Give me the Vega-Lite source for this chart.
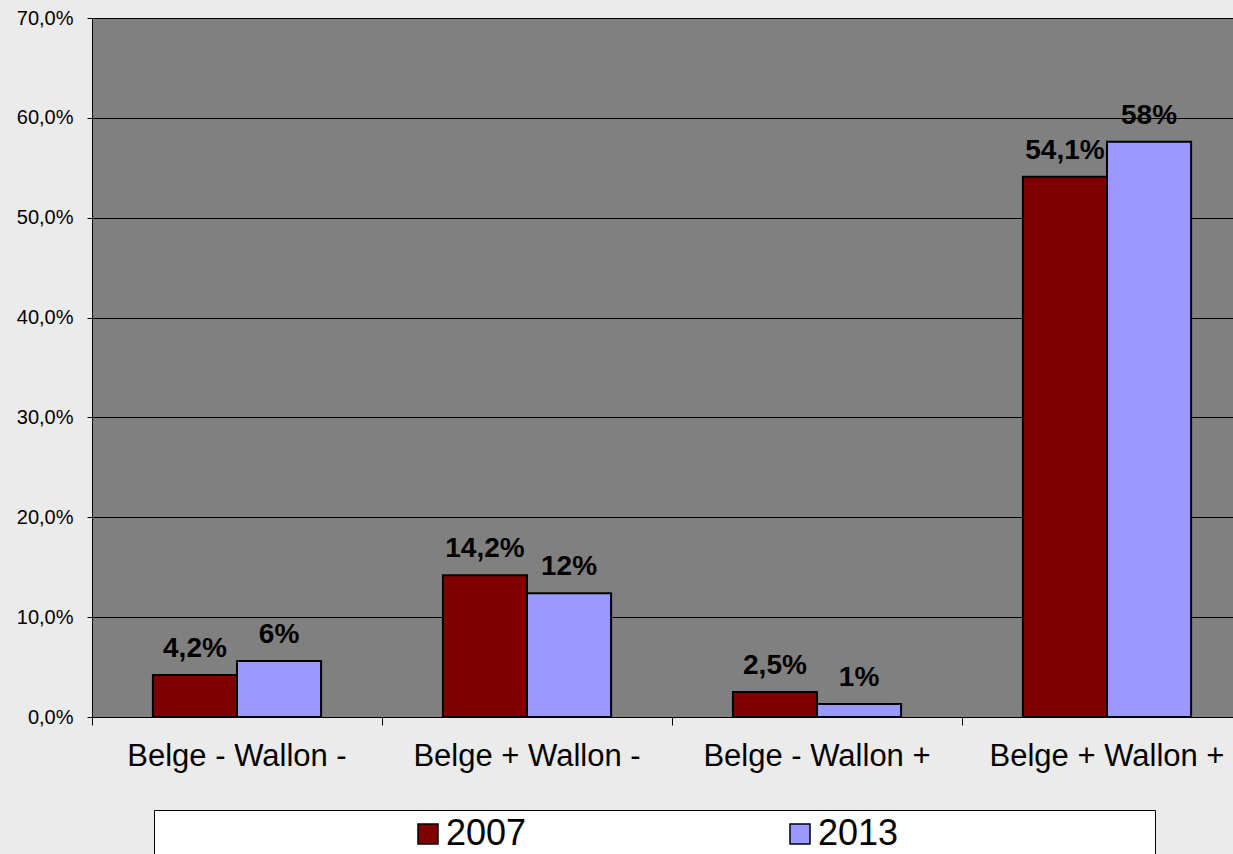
{
  "$schema": "https://vega.github.io/schema/vega-lite/v6.json",
  "width": 1141,
  "height": 699,
  "autosize": {"type": "none"},
  "padding": {"left": 92, "top": 18, "right": 0, "bottom": 137},
  "background": "#ebebeb",
  "config": {
    "view": {"fill": "#808080", "stroke": null},
    "font": "Liberation Sans"
  },
  "data": {
    "values": [
      {"category": "Belge - Wallon -", "year": "2007", "value": 4.2, "label": "4,2%"},
      {"category": "Belge - Wallon -", "year": "2013", "value": 5.6, "label": "6%"},
      {"category": "Belge + Wallon -", "year": "2007", "value": 14.2, "label": "14,2%"},
      {"category": "Belge + Wallon -", "year": "2013", "value": 12.4, "label": "12%"},
      {"category": "Belge - Wallon +", "year": "2007", "value": 2.5, "label": "2,5%"},
      {"category": "Belge - Wallon +", "year": "2013", "value": 1.3, "label": "1%"},
      {"category": "Belge + Wallon +", "year": "2007", "value": 54.1, "label": "54,1%"},
      {"category": "Belge + Wallon +", "year": "2013", "value": 57.6, "label": "58%"}
    ]
  },
  "encoding": {
    "x": {
      "field": "category",
      "type": "nominal",
      "sort": null,
      "scale": {"range": [0, 1160], "paddingInner": 0.42, "paddingOuter": 0.21},
      "axis": {
        "title": null,
        "labelAngle": 0,
        "labelFont": "Liberation Sans",
        "labelFontSize": 31,
        "labelColor": "black",
        "labelLimit": 400,
        "labelPadding": 16,
        "ticks": true,
        "bandPosition": -0.362,
        "tickSize": 8,
        "tickWidth": 1,
        "tickColor": "black",
        "tickOpacity": 1,
        "domainColor": "black",
        "grid": false
      }
    },
    "xOffset": {
      "field": "year",
      "type": "nominal",
      "scale": {"paddingInner": 0, "paddingOuter": 0}
    },
    "y": {
      "field": "value",
      "type": "quantitative",
      "scale": {"domain": [0, 70], "nice": false},
      "axis": {
        "title": null,
        "values": [0, 10, 20, 30, 40, 50, 60, 70],
        "labelExpr": "replace(format(datum.value, '.1f'), '.', ',') + '%'",
        "labelFont": "Liberation Sans",
        "labelFontSize": 20,
        "labelColor": "black",
        "labelPadding": 14,
        "tickSize": 5,
        "tickColor": "black",
        "domainColor": "black",
        "gridColor": "black",
        "gridOpacity": 1,
        "gridWidth": 1
      }
    }
  },
  "layer": [
    {
      "mark": {"type": "bar", "stroke": "black", "strokeWidth": 2},
      "encoding": {
        "color": {
          "field": "year",
          "type": "nominal",
          "scale": {"domain": ["2007", "2013"], "range": ["#800000", "#9999FF"]},
          "legend": {
            "orient": "none",
            "legendX": 62,
            "legendY": 792,
            "direction": "horizontal",
            "fillColor": "white",
            "strokeColor": "black",
            "padding": 6,
            "columnPadding": 255,
            "symbolType": "square",
            "symbolSize": 400,
            "symbolStrokeColor": "black",
            "symbolStrokeWidth": 1.5,
            "symbolOpacity": 1,
            "labelFont": "Liberation Sans",
            "labelFontSize": 36,
            "labelColor": "black",
            "labelOffset": 0,
            "labelLimit": 1000,
            "labelExpr": "datum.label == '2013' ? '2013\u00a0\u00a0\u00a0\u00a0\u00a0\u00a0\u00a0\u00a0\u00a0\u00a0\u00a0\u00a0\u00a0\u00a0\u00a0\u00a0\u00a0\u00a0\u00a0\u00a0\u00a0\u00a0\u00a0\u00a0\u00a0\u200b' : datum.label",
            "title": "\u200b\u00a0\u00a0\u00a0\u00a0\u00a0\u00a0\u00a0\u00a0\u00a0\u00a0\u00a0\u00a0\u00a0\u00a0\u00a0\u00a0\u00a0\u00a0\u00a0\u00a0\u00a0\u00a0\u00a0\u00a0\u200b",
            "titleOrient": "left",
            "titleFont": "Liberation Sans",
            "titleFontSize": 36,
            "titleLimit": 1000,
            "titlePadding": 9
          }
        }
      }
    },
    {
      "mark": {
        "type": "text",
        "dy": -18,
        "baseline": "alphabetic",
        "font": "Liberation Sans",
        "fontSize": 28,
        "fontWeight": "bold",
        "color": "black"
      },
      "encoding": {"text": {"field": "label"}}
    }
  ]
}
